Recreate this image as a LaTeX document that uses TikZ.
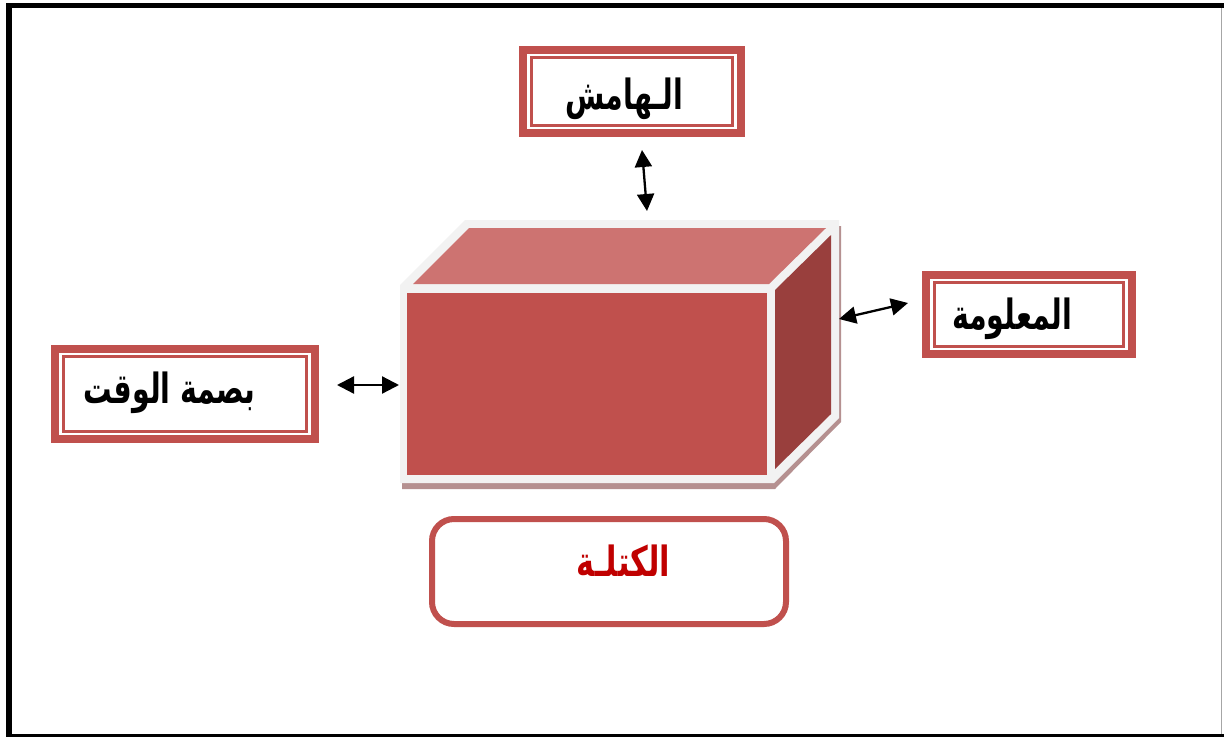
\documentclass[tikz,border=0pt]{standalone}
\usepackage{fontspec}
\usetikzlibrary{arrows.meta,calc}
\TeXXeTstate=1
\newfontfamily\arabicfont[Script=Arabic]{DejaVu Sans}
\definecolor{brickred}{HTML}{C0504D}
\definecolor{toprose}{HTML}{CD7371}
\definecolor{sidedark}{HTML}{993F3D}
\definecolor{bevel}{HTML}{F2F2F2}
\definecolor{boxshadow}{HTML}{B59090}
\definecolor{titlered}{HTML}{C00000}
\tikzset{
  framebox/.style={rectangle,draw=none,inner sep=0pt,
    path picture={
      \fill[brickred] (path picture bounding box.south west) rectangle (path picture bounding box.north east);
      \fill[white] ([shift={(8pt,8pt)}]path picture bounding box.south west) rectangle ([shift={(-8pt,-8pt)}]path picture bounding box.north east);
      \draw[brickred,line width=2.2pt] ([shift={(12.5pt,11.5pt)}]path picture bounding box.south west) rectangle ([shift={(-12.5pt,-11.5pt)}]path picture bounding box.north east);
    }},
  arlabel/.style={font=\arabicfont\bfseries\fontsize{32pt}{36pt}\selectfont,text=black,inner sep=0pt},
  duplex/.style={{Triangle[length=17pt,width=17pt]}-{Triangle[length=17pt,width=17pt]},line width=2.3pt,black},
}
\begin{document}
\begin{tikzpicture}[x=1pt,y=-1pt]
\useasboundingbox (0,0) rectangle (1224,737);
\fill[white] (0,0) rectangle (1224,737);
% outer frame
\fill[black] (6,2.5) rectangle (1224,8);
\fill[black] (6,2.5) rectangle (12,737);
\fill[black] (6,734) rectangle (1224,737);
\fill[gray!70] (1221,8) rectangle (1222,734);
% box shadow
\fill[boxshadow] (402,489) -- (402,470) -- (830,226) -- (841,226) -- (841,422) -- (775,489) -- cycle;
% box bevel
\fill[bevel] (400,483) -- (400,285) -- (465,220) -- (839,220) -- (839,418) -- (774,483) -- cycle;
% faces
\fill[brickred] (407,293) rectangle (767,475);
\fill[toprose] (413,284) -- (469,228) -- (826,228) -- (769,284) -- cycle;
\fill[sidedark] (775,290) -- (831,235) -- (831,414) -- (775,469) -- cycle;
% boxes
\node[framebox,minimum width=226pt,minimum height=91pt] (margin) at (632,91.5) {};
\node[framebox,minimum width=214pt,minimum height=87pt] (info) at (1029,314.5) {};
\node[framebox,minimum width=268pt,minimum height=98pt] (stamp) at (185,394) {};
\node[draw=brickred,line width=6pt,rounded corners=22pt,fill=white,minimum width=354pt,minimum height=105pt,inner sep=0pt] (block) at (609,571.5) {};
% labels
\node[arlabel] (margintext) at (624.5,99) {\scalebox{0.89}[1.3]{\beginR الـهامش\endR}};
\node[arlabel] (infotext) at (1012,319) {\scalebox{0.89}[1.3]{\beginR المعلومة\endR}};
\node[arlabel] (stamptext) at (169.5,393) {\scalebox{0.89}[1.3]{\beginR بصمة الوقت\endR}};
\node[arlabel,text=titlered] (blocktext) at (623.5,561) {\scalebox{0.95}[1.3]{\beginR الكتلـة\endR}};
% arrows
\coordinate (mA) at (642,150);
\coordinate (mB) at (647,211);
\coordinate (iA) at (839,319);
\coordinate (iB) at (908,303);
\coordinate (sA) at (337,385);
\coordinate (sB) at (399,385);
\draw[duplex] (mA) -- (mB);
\draw[duplex] (iA) -- (iB);
\draw[duplex] (sA) -- (sB);
\end{tikzpicture}
\end{document}
